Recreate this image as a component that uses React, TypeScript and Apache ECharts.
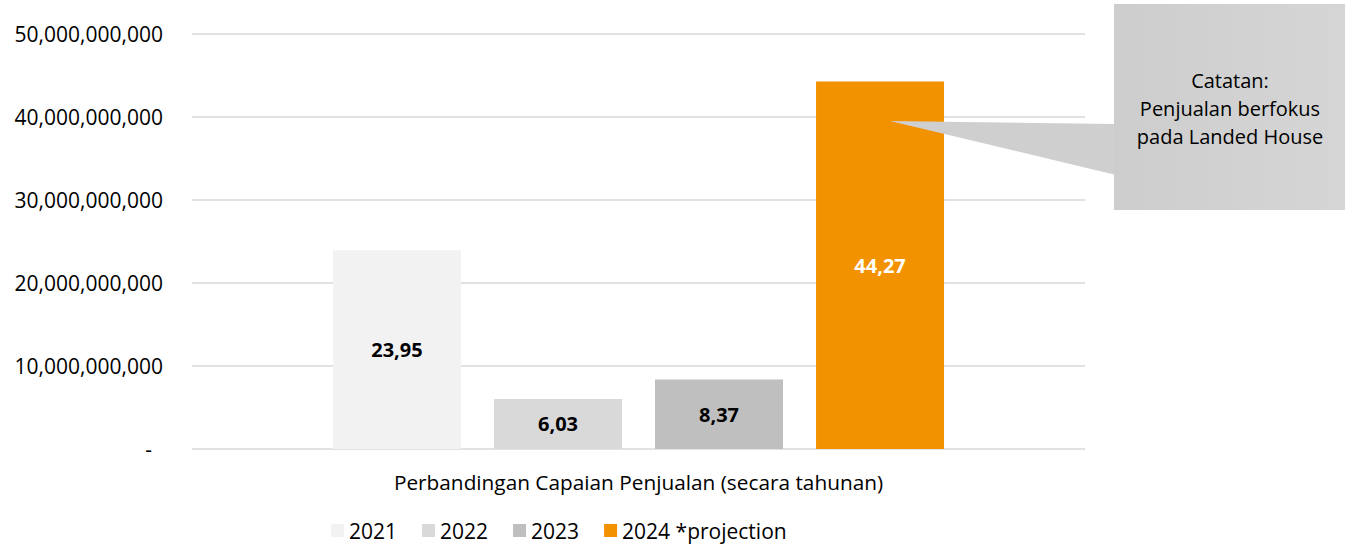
import React, { useEffect, useRef } from "react";
import * as echarts from "echarts";

const categories = ["Perbandingan Capaian Penjualan (secara tahunan)"];
const seriesNames = ["2021", "2022", "2023", "2024 *projection"];
const seriesValues = [23950000000, 6030000000, 8370000000, 44270000000];
const seriesColors = ["#f2f2f2", "#d9d9d9", "#bfbfbf", "#f39200"];
const labelColors = ["#000000", "#000000", "#000000", "#ffffff"];
const yTicks = { min: 0, max: 50000000000, interval: 10000000000 };
const noteLines = ["Catatan:", "Penjualan berfokus", "pada Landed House"];

const FONT = "'Open Sans', sans-serif";

function fmtAxis(v: number): string {
  if (v === 0) return "{dash|-}";
  return v.toLocaleString("en-US");
}

function fmtLabel(v: number): string {
  return (v / 1e9).toFixed(2).replace(".", ",");
}

export default function App() {
  const ref = useRef<HTMLDivElement>(null);
  useEffect(() => {
    if (!ref.current) return;
    const chart = echarts.init(ref.current, undefined, { renderer: "svg" });
    const series = seriesNames.map((name, i) => ({
      name,
      type: "bar",
      barWidth: 128,
      barGap: "25.8%",
      itemStyle: { color: seriesColors[i] },
      label: {
        show: true,
        position: "inside",
        formatter: (p: any) => fmtLabel(p.value),
        color: labelColors[i],
        fontWeight: "bold",
        fontSize: 20,
        fontFamily: FONT,
      },
      data: [seriesValues[i]],
    }));
    chart.setOption({
      animation: false,
      backgroundColor: "#ffffff",
      grid: { left: 192, right: 260, top: 34, bottom: 97, containLabel: false },
      xAxis: {
        type: "category",
        data: categories,
        axisLine: { show: false },
        axisTick: { show: false },
        axisLabel: {
          margin: 22,
          fontSize: 20.8,
          color: "#000000",
          fontFamily: FONT,
        },
      },
      yAxis: {
        type: "value",
        min: yTicks.min,
        max: yTicks.max,
        interval: yTicks.interval,
        axisLine: { show: false },
        axisTick: { show: false },
        splitLine: { lineStyle: { color: "#d9d9d9", width: 1.5 } },
        axisLabel: {
          margin: 29,
          fontSize: 21,
          color: "#000000",
          fontFamily: FONT,
          formatter: fmtAxis,
          rich: {
            dash: { fontSize: 21, fontFamily: FONT, color: "#000000", padding: [0, 11, 0, 0] },
          },
        },
      },
      legend: {
        bottom: 0,
        left: 326,
        icon: "rect",
        itemWidth: 13,
        itemHeight: 13,
        itemGap: 25,
        textStyle: { fontSize: 21, color: "#000000", fontFamily: FONT },
        data: seriesNames,
      },
      graphic: [
        {
          type: "polygon",
          z: 100,
          shape: { points: [[890, 121], [1116, 124], [1116, 175]] },
          style: { fill: "#cfcfcf" },
        },
        {
          type: "rect",
          z: 100,
          shape: { x: 1114, y: 4, width: 240, height: 206 },
          style: {
            fill: new echarts.graphic.LinearGradient(0, 0, 1, 0, [
              { offset: 0, color: "#cdcdcd" },
              { offset: 1, color: "#d6d6d6" },
            ]),
          },
        },
        {
          type: "text",
          z: 101,
          x: 1230,
          y: 108,
          style: {
            text: noteLines.join("\n"),
            fontSize: 20,
            lineHeight: 28,
            fontFamily: FONT,
            fill: "#000000",
            align: "center",
            verticalAlign: "middle",
          },
        },
      ],
      series,
    });
    return () => chart.dispose();
  }, []);
  return (
    <div
      ref={ref}
      style={{ position: "fixed", left: 0, top: 0, width: 1345, height: 546 }}
    />
  );
}
